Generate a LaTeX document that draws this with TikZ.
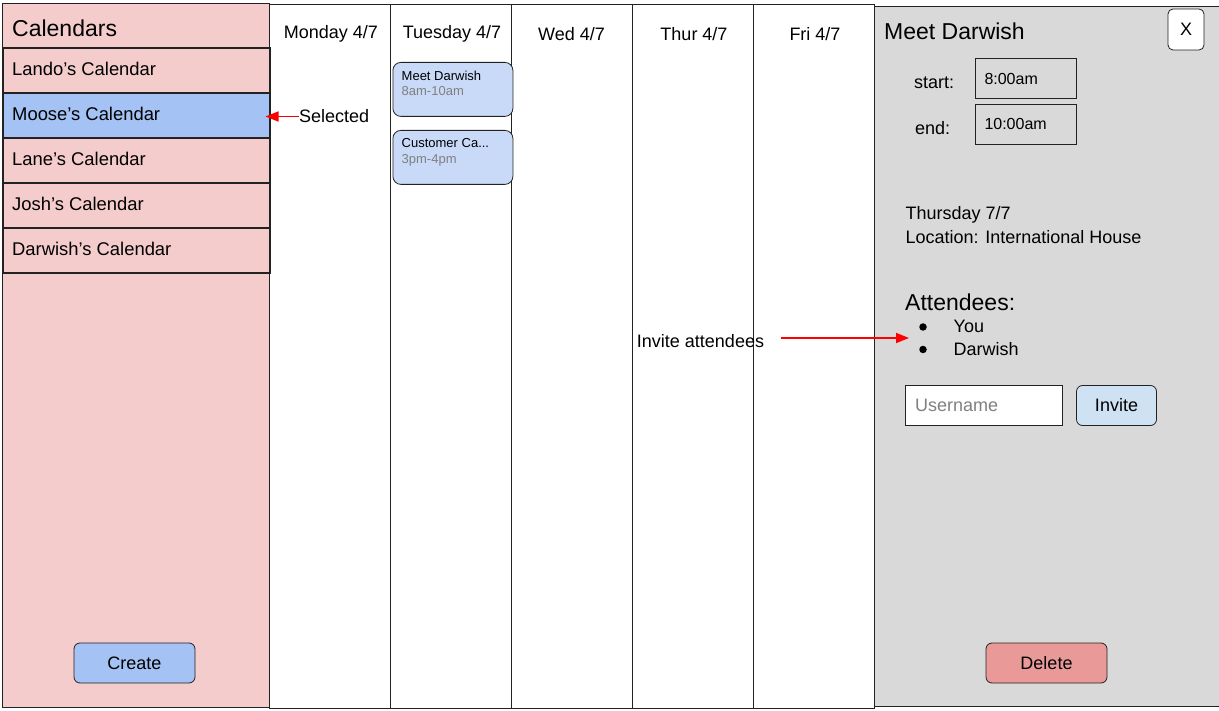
\documentclass[tikz,border=0pt]{standalone}
\usepackage{fontspec}
\setmainfont{Liberation Sans}
\usetikzlibrary{arrows.meta}
\definecolor{pinkbg}{HTML}{F4CCCC}
\definecolor{selblue}{HTML}{A4C2F4}
\definecolor{evblue}{HTML}{C9DAF8}
\definecolor{graybg}{HTML}{D9D9D9}
\definecolor{invblue}{HTML}{CFE2F3}
\definecolor{delred}{HTML}{EA9999}
\definecolor{linecol}{HTML}{222222}
\definecolor{timegray}{HTML}{808080}
\begin{document}
\begin{tikzpicture}[x=1pt,y=-1pt,
  every node/.style={font=\fontsize{18}{21}\selectfont, text=black},
  panel/.style={draw=linecol, line width=1pt},
  calrow/.style={draw=linecol, line width=2pt, fill=pinkbg, minimum width=267pt, minimum height=45pt,
    text width=247pt, align=left, inner xsep=10pt, inner ysep=0pt},
  rowtext/.style={anchor=west, inner sep=0pt, font=\fontsize{18.4}{21}\selectfont},
  daylbl/.style={inner sep=0pt},
  evbox/.style={draw=linecol, line width=0.8pt, rounded corners=8pt, fill=evblue, minimum width=120pt, minimum height=54pt, anchor=north west},
  evtitle/.style={anchor=base west, inner sep=0pt, font=\fontsize{13}{15}\selectfont},
  evtime/.style={anchor=base west, inner sep=0pt, font=\fontsize{13}{15}\selectfont, text=timegray},
  btn/.style={draw=linecol, line width=0.8pt, rounded corners=6pt, minimum width=121pt, minimum height=40pt, inner sep=0pt},
  field/.style={draw=linecol, line width=0.8pt, minimum width=101pt, minimum height=40pt, text width=83pt, align=left, inner xsep=9pt, inner ysep=0pt, font=\fontsize{16}{19}\selectfont},
  plain/.style={inner sep=0pt},
  bul/.style={circle, fill=black, inner sep=0pt, minimum size=7.5pt},
  redarrow/.style={draw=red, line width=1.6pt, -{Triangle[length=13pt,width=10pt]}}
]
\useasboundingbox (0,0) rectangle (1219,711);
% left panel
\draw[panel, fill=pinkbg] (2.5,3.5) rectangle (269.5,707);
\node[plain, anchor=west, font=\fontsize{23}{27}\selectfont] (caltitle) at (12,28) {Calendars};
\node[calrow] (lando) at (136,70.2) {};
\node[calrow, fill=selblue] (moose) at (136,115.2) {};
\node[calrow] (lane) at (136,160.2) {};
\node[calrow] (josh) at (136,205.2) {};
\node[calrow] (darw) at (136,250.2) {};
\node[rowtext] (landot) at (12,68.5) {Lando’s Calendar};
\node[rowtext] (mooset) at (12,113.5) {Moose’s Calendar};
\node[rowtext] (lanet) at (12,158.5) {Lane’s Calendar};
\node[rowtext] (josht) at (12,203.5) {Josh’s Calendar};
\node[rowtext] (darwt) at (12,248.5) {Darwish’s Calendar};
\node[btn, fill=selblue] (create) at (134.5,663) {Create};
% day columns
\draw[panel, line width=0.8pt] (269.5,4.5) rectangle (390.5,708);
\draw[panel, line width=0.8pt] (390.5,4.5) rectangle (511.5,708);
\draw[panel, line width=0.8pt] (511.5,4.5) rectangle (632.5,708);
\draw[panel, line width=0.8pt] (632.5,4.5) rectangle (753.5,708);
\draw[panel, line width=0.8pt] (753.5,4.5) rectangle (874.5,708);
\node[daylbl] (mon) at (331,34) {Monday 4/7};
\node[daylbl] (tue) at (452,34) {Tuesday 4/7};
\node[daylbl] (wed) at (571.5,34) {Wed 4/7};
\node[daylbl] (thu) at (694,34) {Thur 4/7};
\node[daylbl] (fri) at (815,34) {Fri 4/7};
% events
\node[evbox] (ev1) at (392.5,62) {};
\node[evtitle] (ev1t) at (401.5,80.5) {Meet Darwish};
\node[evtime] (ev1d) at (401.5,96) {8am-10am};
\node[evbox] (ev2) at (392.5,130) {};
\node[evtitle] (ev2t) at (401.5,148) {Customer Ca...};
\node[evtime] (ev2d) at (401.5,163.5) {3pm-4pm};
% selected annotation
\node[plain, anchor=west] (selected) at (299,116.5) {Selected};
\draw[redarrow, shorten >=-5pt] (selected.west) -- (selected.west -| moose.east);
% right panel
\draw[panel, fill=graybg] (874.5,6.5) rectangle (1220,706.5);
\node[plain, anchor=west, font=\fontsize{23}{27}\selectfont] (dtitle) at (884,31) {Meet Darwish};
\node[draw=linecol, line width=0.8pt, fill=white, rounded corners=5pt, minimum width=36pt, minimum height=41pt, inner sep=0pt] (closebtn) at (1186,29.5) {X};
\node[plain, anchor=west] (startl) at (914,82.5) {start:};
\node[field] (startf) at (1026,78.5) {8:00am};
\node[plain, anchor=west] (endl) at (915,128) {end:};
\node[field] (endf) at (1026,124) {10:00am};
\node[plain, anchor=west] (dayinfo) at (905.5,214.5) {Thursday 7/7};
\node[plain, anchor=west] (locinfo) at (905.5,237) {Location: International House};
\node[plain, anchor=west, font=\fontsize{23}{27}\selectfont] (attl) at (905,302) {Attendees:};
\node[bul] (b1) at (923,327) {};
\node[bul] (b2) at (923,349.5) {};
\node[plain, anchor=west] (you) at (953.5,326.5) {You};
\node[plain, anchor=west] (darwish) at (953.5,349) {Darwish};
\node[draw=linecol, line width=0.8pt, fill=white, minimum width=157pt, minimum height=40pt, text width=137pt, align=left, inner xsep=10pt, inner ysep=0pt, text=timegray] (user) at (983.5,405.5) {Username};
\node[btn, fill=invblue, minimum width=80pt] (invite) at (1116.5,405.5) {Invite};
\node[btn, fill=delred] (delete) at (1046.5,663) {Delete};
% invite annotation
\node[plain] (invlbl) at (700.5,341) {Invite attendees};
\coordinate (invstart) at (781,338);
\coordinate (invtip) at (909,338);
\draw[redarrow] (invstart) -- (invtip);
\end{tikzpicture}
\end{document}
